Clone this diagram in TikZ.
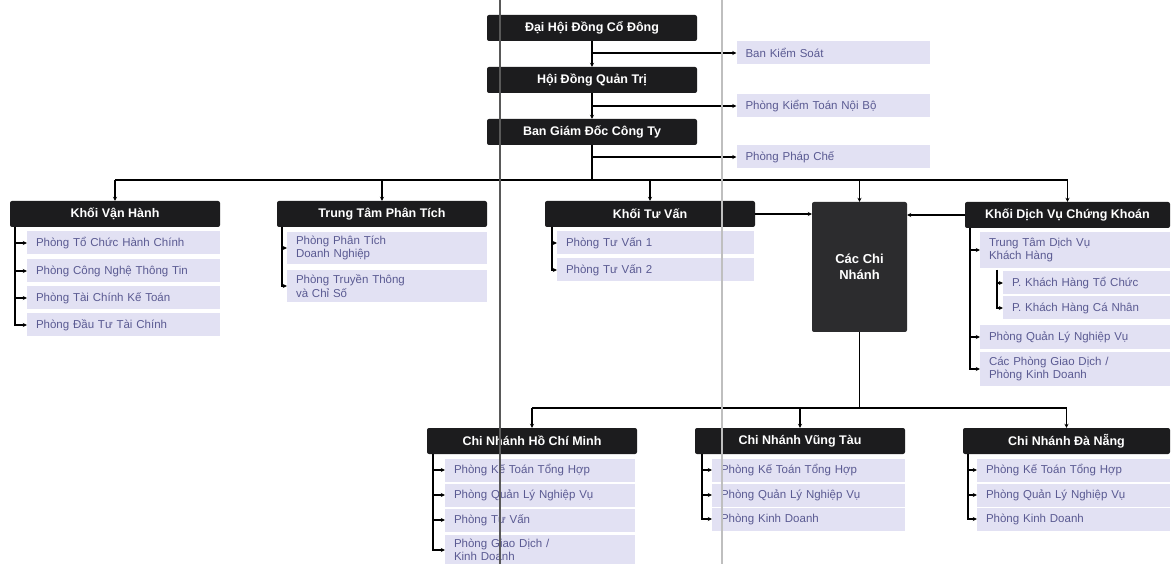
\documentclass[tikz,border=0pt]{standalone}
\usepackage{fontspec}
\setmainfont{Liberation Sans}
\usetikzlibrary{arrows.meta}

\definecolor{headfill}{HTML}{1C1C1E}
\definecolor{branchfill}{HTML}{2C2C2E}
\definecolor{itemfill}{HTML}{E2E1F3}
\definecolor{itemtext}{HTML}{5A5A92}

\begin{document}
\begin{tikzpicture}[x=1pt, y=-1pt,
    head/.style={fill=headfill, text=white, font=\bfseries\fontsize{12.5}{14}\selectfont,
        minimum width=210, minimum height=26, rounded corners=2, inner sep=0},
    item/.style={fill=itemfill, text=itemtext, font=\fontsize{11.5}{13.5}\selectfont,
        text width=175, align=left, inner xsep=9, inner ysep=0, minimum height=23},
    link/.style={line width=1.2pt, black},
    tip/.style={link, -{Stealth[length=4pt, width=4pt]}},
    scanline/.style={line width=1.4pt}]
    \clip (0,0) rectangle (1171,564);
    \fill[white] (0,0) rectangle (1171,564);

    % ban lanh dao
    \node[head] (dhdcd) at (592,28) {Đại Hội Đồng Cổ Đông};
    \node[head] (hdqt) at (592,80) {Hội Đồng Quản Trị};
    \node[head] (bgd) at (592,132) {Ban Giám Đốc Công Ty};
    \node[item] (bks) at (833,53) {Ban Kiểm Soát};
    \node[item] (ktnb) at (833,106) {Phòng Kiểm Toán Nội Bộ};
    \node[item] (pc) at (833,157) {Phòng Pháp Chế};

    \draw[tip] (dhdcd) -- (hdqt);
    \draw[tip] (hdqt) -- (bgd);
    \draw[tip] (dhdcd.south |- bks) -- (bks);
    \draw[tip] (hdqt.south |- ktnb) -- (ktnb);
    \draw[tip] (bgd.south |- pc) -- (pc);

    % cac khoi
    \node[head] (kvh) at (115,214) {Khối Vận Hành};
    \node[head] (ttpt) at (382,214) {Trung Tâm Phân Tích};
    \node[head] (ktv) at (650,214) {Khối Tư Vấn};
    \node[fill=branchfill, text=white, font=\bfseries\fontsize{13}{16}\selectfont,
        minimum width=95, minimum height=130, rounded corners=2, align=center] (ccn) at (859.5,267) {Các Chi\\Nhánh};
    \node[head, minimum width=205] (kdv) at (1067.5,215) {Khối Dịch Vụ Chứng Khoán};

    \coordinate (bus) at (592,180);
    \draw[link] (bgd) -- (bus);
    \draw[link] (kvh.north |- bus) -- (kdv.north |- bus);
    \foreach \n in {kvh,ttpt,ktv,ccn,kdv}
        \draw[tip] (\n.north |- bus) -- (\n);
    \draw[tip] (ktv) -- (ccn.west |- ktv);
    \draw[tip] (kdv) -- (ccn.east |- kdv);

    % khoi van hanh
    \node[item] (kvh1) at (123.5,243) {Phòng Tổ Chức Hành Chính};
    \node[item] (kvh2) at (123.5,271) {Phòng Công Nghệ Thông Tin};
    \node[item] (kvh3) at (123.5,298) {Phòng Tài Chính Kế Toán};
    \node[item] (kvh4) at (123.5,325) {Phòng Đầu Tư Tài Chính};
    \coordinate (kvhbus) at (15,227);
    \foreach \n in {kvh1,kvh2,kvh3,kvh4}
        \draw[tip] (kvhbus) |- (\n);

    % trung tam phan tich
    \node[item, text width=182, minimum height=32] (ttpt1) at (387,248) {Phòng Phân Tích\\Doanh Nghiệp};
    \node[item, text width=182, minimum height=32] (ttpt2) at (387,286) {Phòng Truyền Thông\\và Chỉ Số};
    \coordinate (ttptbus) at (282,227);
    \foreach \n in {ttpt1,ttpt2}
        \draw[tip] (ttptbus) |- (\n);

    % khoi tu van
    \node[item, text width=179] (ktv1) at (655.5,243) {Phòng Tư Vấn 1};
    \node[item, text width=179] (ktv2) at (655.5,270) {Phòng Tư Vấn 2};
    \coordinate (ktvbus) at (552,227);
    \foreach \n in {ktv1,ktv2}
        \draw[tip] (ktvbus) |- (\n);

    % khoi dich vu chung khoan
    \node[item, text width=172, minimum height=36] (kdv1) at (1075,250) {Trung Tâm Dịch Vụ\\Khách Hàng};
    \node[item, text width=149] (kdv11) at (1086.5,283) {P. Khách Hàng Tổ Chức};
    \node[item, text width=149] (kdv12) at (1086.5,308) {P. Khách Hàng Cá Nhân};
    \node[item, text width=172] (kdv2) at (1075,337) {Phòng Quản Lý Nghiệp Vụ};
    \node[item, text width=172, minimum height=34] (kdv3) at (1075,369) {Các Phòng Giao Dịch /\\Phòng Kinh Doanh};
    \coordinate (kdvbus) at (970,228);
    \coordinate (kdv1bus) at (997,270);
    \foreach \n in {kdv1,kdv2,kdv3}
        \draw[tip] (kdvbus) |- (\n);
    \foreach \n in {kdv11,kdv12}
        \draw[tip] (kdv1bus) |- (\n);

    % cac chi nhanh
    \node[head] (hcm) at (532,441) {Chi Nhánh Hồ Chí Minh};
    \node[head] (vt) at (800,441) {Chi Nhánh Vũng Tàu};
    \node[head, minimum width=207] (dn) at (1066.5,441) {Chi Nhánh Đà Nẵng};
    \coordinate (cnbus) at (859.5,408);
    \draw[link] (ccn) -- (cnbus);
    \draw[link] (hcm.north |- cnbus) -- (dn.north |- cnbus);
    \foreach \n in {hcm,vt,dn}
        \draw[tip] (\n.north |- cnbus) -- (\n);

    \node[item, text width=172] (hcm1) at (540,470) {Phòng Kế Toán Tổng Hợp};
    \node[item, text width=172] (hcm2) at (540,495) {Phòng Quản Lý Nghiệp Vụ};
    \node[item, text width=172] (hcm3) at (540,520) {Phòng Tư Vấn};
    \node[item, text width=172, minimum height=30] (hcm4) at (540,550) {Phòng Giao Dịch /\\Kinh Doanh};
    \coordinate (hcmbus) at (433,454);
    \foreach \n in {hcm1,hcm2,hcm3,hcm4}
        \draw[tip] (hcmbus) |- (\n);

    \node[item] (vt1) at (808.5,470) {Phòng Kế Toán Tổng Hợp};
    \node[item] (vt2) at (808.5,495) {Phòng Quản Lý Nghiệp Vụ};
    \node[item] (vt3) at (808.5,519) {Phòng Kinh Doanh};
    \coordinate (vtbus) at (702,454);
    \foreach \n in {vt1,vt2,vt3}
        \draw[tip] (vtbus) |- (\n);

    \node[item] (dn1) at (1073.5,470) {Phòng Kế Toán Tổng Hợp};
    \node[item] (dn2) at (1073.5,495) {Phòng Quản Lý Nghiệp Vụ};
    \node[item] (dn3) at (1073.5,519) {Phòng Kinh Doanh};
    \coordinate (dnbus) at (968,454);
    \foreach \n in {dn1,dn2,dn3}
        \draw[tip] (dnbus) |- (\n);

    % vet quet
    \draw[scanline, black!65] (500,0) -- (500,564);
    \draw[scanline, black!25] (722,0) -- (722,564);
\end{tikzpicture}
\end{document}
